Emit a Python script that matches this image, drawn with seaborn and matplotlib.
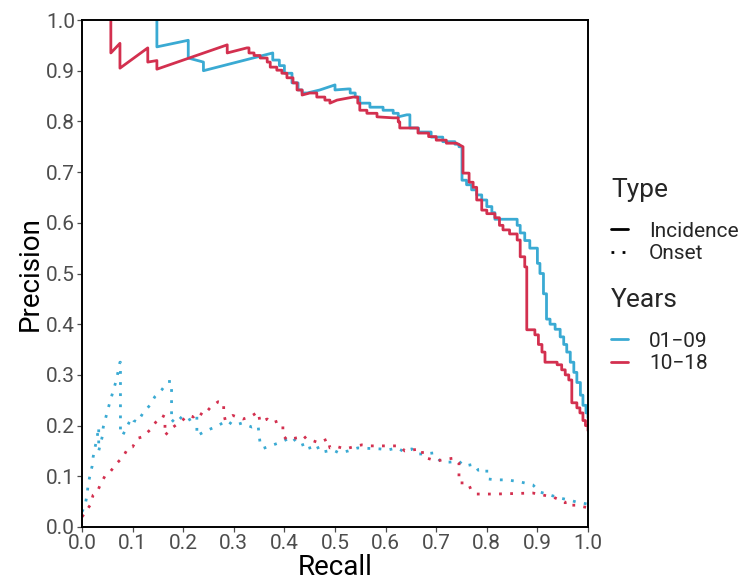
import numpy as np
import pandas as pd
import matplotlib
matplotlib.use("Agg")
import matplotlib.pyplot as plt
from matplotlib.lines import Line2D
import seaborn as sns

# ---------------- data ----------------
inc_0109_recall = [0.148, 0.148, 0.21, 0.21, 0.24, 0.24, 0.377, 0.377, 0.39, 0.39, 0.40, 0.40, 0.415, 0.415,
                   0.427, 0.427, 0.435, 0.435, 0.445, 0.47, 0.50, 0.50, 0.526, 0.53, 0.53, 0.54, 0.54, 0.549,
                   0.549, 0.569, 0.569, 0.595, 0.595, 0.615, 0.615, 0.625, 0.625, 0.642, 0.648, 0.648, 0.665,
                   0.665, 0.69, 0.69, 0.713, 0.713, 0.737, 0.737, 0.745, 0.745, 0.751, 0.751, 0.76, 0.76,
                   0.77, 0.77, 0.78, 0.78, 0.79, 0.79, 0.80, 0.80, 0.81, 0.81, 0.816, 0.816, 0.86, 0.86,
                   0.866, 0.866, 0.875, 0.875, 0.885, 0.885, 0.90, 0.90, 0.905, 0.905, 0.912, 0.912, 0.918,
                   0.918, 0.925, 0.925, 0.935, 0.935, 0.945, 0.945, 0.952, 0.952, 0.958, 0.958, 0.965, 0.965,
                   0.972, 0.972, 0.978, 0.978, 0.985, 0.985, 0.99, 0.99, 0.996, 0.996, 1.0, 1.0]
inc_0109_prec = [1.0, 0.947, 0.96, 0.925, 0.917, 0.90, 0.935, 0.921, 0.921, 0.91, 0.91, 0.895, 0.895, 0.876,
                 0.876, 0.862, 0.862, 0.856, 0.856, 0.862, 0.872, 0.862, 0.864, 0.864, 0.856, 0.856, 0.848,
                 0.848, 0.836, 0.836, 0.828, 0.828, 0.822, 0.822, 0.816, 0.816, 0.809, 0.813, 0.813, 0.787,
                 0.787, 0.779, 0.779, 0.769, 0.769, 0.76, 0.76, 0.755, 0.755, 0.75, 0.75, 0.684, 0.684, 0.675,
                 0.675, 0.665, 0.665, 0.655, 0.655, 0.645, 0.645, 0.632, 0.632, 0.62, 0.62, 0.607, 0.607,
                 0.595, 0.595, 0.58, 0.58, 0.565, 0.565, 0.55, 0.55, 0.52, 0.52, 0.50, 0.50, 0.46, 0.46,
                 0.41, 0.41, 0.40, 0.40, 0.39, 0.39, 0.375, 0.375, 0.36, 0.36, 0.345, 0.345, 0.325, 0.325,
                 0.305, 0.305, 0.285, 0.285, 0.26, 0.26, 0.24, 0.24, 0.225, 0.225, 0.215]

inc_1018_recall = [0.057, 0.057, 0.075, 0.075, 0.13, 0.13, 0.148, 0.148, 0.287, 0.287, 0.326, 0.33, 0.33,
                   0.34, 0.34, 0.352, 0.352, 0.366, 0.366, 0.372, 0.372, 0.385, 0.385, 0.395, 0.395, 0.405,
                   0.405, 0.417, 0.417, 0.425, 0.425, 0.435, 0.435, 0.45, 0.464, 0.464, 0.48, 0.48, 0.49,
                   0.49, 0.504, 0.536, 0.545, 0.545, 0.549, 0.549, 0.563, 0.563, 0.583, 0.583, 0.615, 0.625,
                   0.625, 0.628, 0.628, 0.664, 0.664, 0.685, 0.685, 0.70, 0.70, 0.72, 0.72, 0.74, 0.753,
                   0.753, 0.765, 0.765, 0.773, 0.773, 0.78, 0.78, 0.79, 0.79, 0.80, 0.80, 0.816, 0.816, 0.825,
                   0.825, 0.832, 0.832, 0.845, 0.845, 0.86, 0.86, 0.866, 0.866, 0.875, 0.875, 0.879, 0.879,
                   0.895, 0.895, 0.902, 0.902, 0.909, 0.909, 0.915, 0.915, 0.939, 0.939, 0.948, 0.948, 0.955,
                   0.955, 0.962, 0.962, 0.968, 0.968, 0.978, 0.978, 0.984, 0.984, 0.99, 0.99, 0.995, 0.995,
                   1.0, 1.0]
inc_1018_prec = [1.0, 0.935, 0.954, 0.905, 0.945, 0.917, 0.92, 0.903, 0.951, 0.935, 0.945, 0.945, 0.935,
                 0.935, 0.93, 0.93, 0.925, 0.925, 0.917, 0.917, 0.907, 0.907, 0.901, 0.901, 0.895, 0.895,
                 0.886, 0.886, 0.876, 0.876, 0.862, 0.862, 0.852, 0.856, 0.856, 0.848, 0.848, 0.842, 0.842,
                 0.836, 0.842, 0.848, 0.848, 0.836, 0.836, 0.822, 0.822, 0.816, 0.816, 0.809, 0.807, 0.807,
                 0.799, 0.799, 0.787, 0.787, 0.777, 0.777, 0.77, 0.77, 0.763, 0.763, 0.757, 0.757, 0.75,
                 0.698, 0.698, 0.68, 0.68, 0.67, 0.67, 0.645, 0.645, 0.625, 0.625, 0.618, 0.618, 0.61, 0.61,
                 0.595, 0.595, 0.586, 0.586, 0.578, 0.578, 0.566, 0.566, 0.533, 0.533, 0.513, 0.513, 0.389,
                 0.389, 0.379, 0.379, 0.36, 0.36, 0.345, 0.345, 0.325, 0.325, 0.32, 0.32, 0.31, 0.31, 0.30,
                 0.30, 0.29, 0.29, 0.245, 0.245, 0.235, 0.235, 0.225, 0.225, 0.21, 0.21, 0.20, 0.20, 0.19]

ons_0109_recall = [0.0, 0.006, 0.01, 0.012, 0.016, 0.02, 0.022, 0.026, 0.03, 0.033, 0.033, 0.04, 0.042,
                   0.052, 0.062, 0.068, 0.075, 0.076, 0.076, 0.08, 0.09, 0.098, 0.102, 0.11, 0.12, 0.134,
                   0.144, 0.158, 0.17, 0.177, 0.177, 0.19, 0.204, 0.227, 0.227, 0.24, 0.253, 0.269, 0.286,
                   0.30, 0.316, 0.336, 0.348, 0.352, 0.358, 0.375, 0.395, 0.415, 0.43, 0.447, 0.452, 0.47,
                   0.476, 0.496, 0.508, 0.526, 0.545, 0.589, 0.605, 0.622, 0.634, 0.652, 0.66, 0.676, 0.694,
                   0.702, 0.711, 0.727, 0.745, 0.755, 0.775, 0.783, 0.80, 0.80, 0.818, 0.84, 0.866, 0.891,
                   0.905, 0.925, 0.945, 0.964, 0.978, 0.99, 1.0]
ons_0109_prec = [0.03, 0.043, 0.063, 0.083, 0.103, 0.12, 0.138, 0.158, 0.178, 0.197, 0.15, 0.178, 0.197,
                 0.235, 0.27, 0.29, 0.325, 0.325, 0.19, 0.18, 0.20, 0.216, 0.21, 0.207, 0.224, 0.24,
                 0.257, 0.271, 0.287, 0.287, 0.207, 0.22, 0.207, 0.22, 0.18, 0.187, 0.193, 0.20, 0.21,
                 0.20, 0.205, 0.197, 0.20, 0.165, 0.155, 0.161, 0.168, 0.178, 0.16, 0.166, 0.15, 0.158,
                 0.148, 0.152, 0.146, 0.15, 0.156, 0.154, 0.152, 0.156, 0.15, 0.154, 0.144, 0.144, 0.146,
                 0.136, 0.128, 0.128, 0.13, 0.12, 0.124, 0.112, 0.114, 0.095, 0.093, 0.093, 0.089, 0.083,
                 0.069, 0.063, 0.057, 0.053, 0.049, 0.047, 0.045]

ons_1018_recall = [0.0, 0.006, 0.016, 0.022, 0.03, 0.036, 0.045, 0.055, 0.069, 0.081, 0.091, 0.10, 0.11,
                   0.12, 0.134, 0.146, 0.158, 0.164, 0.164, 0.18, 0.194, 0.21, 0.22, 0.229, 0.24, 0.253,
                   0.269, 0.28, 0.28, 0.283, 0.298, 0.318, 0.332, 0.348, 0.352, 0.366, 0.375, 0.387, 0.397,
                   0.397, 0.405, 0.425, 0.437, 0.445, 0.457, 0.468, 0.486, 0.49, 0.506, 0.52, 0.536, 0.553,
                   0.569, 0.599, 0.628, 0.638, 0.652, 0.672, 0.674, 0.688, 0.70, 0.72, 0.737, 0.745, 0.745,
                   0.763, 0.769, 0.78, 0.816, 0.891, 0.911, 0.931, 0.955, 0.955, 0.978, 0.99, 1.0]
ons_1018_prec = [0.02, 0.028, 0.043, 0.063, 0.069, 0.083, 0.10, 0.108, 0.126, 0.138, 0.156, 0.158, 0.175,
                 0.178, 0.191, 0.207, 0.22, 0.217, 0.181, 0.197, 0.207, 0.22, 0.217, 0.227, 0.22, 0.235,
                 0.247, 0.245, 0.225, 0.211, 0.22, 0.213, 0.217, 0.227, 0.207, 0.213, 0.205, 0.209, 0.201,
                 0.181, 0.172, 0.176, 0.181, 0.172, 0.17, 0.166, 0.174, 0.156, 0.158, 0.154, 0.158, 0.162,
                 0.16, 0.16, 0.16, 0.15, 0.152, 0.154, 0.138, 0.134, 0.13, 0.134, 0.136, 0.126, 0.087,
                 0.087, 0.073, 0.065, 0.065, 0.067, 0.063, 0.059, 0.049, 0.043, 0.043, 0.04, 0.038]

types = ["Incidence", "Onset"]
years = ["01\u221209", "10\u221218"]
x_ticks = [0.0, 0.1, 0.2, 0.3, 0.4, 0.5, 0.6, 0.7, 0.8, 0.9, 1.0]
y_ticks = [0.0, 0.1, 0.2, 0.3, 0.4, 0.5, 0.6, 0.7, 0.8, 0.9, 1.0]

colors = {years[0]: "#3AAAD3", years[1]: "#D3304F"}

curves = [
    (types[0], years[0], inc_0109_recall, inc_0109_prec),
    (types[0], years[1], inc_1018_recall, inc_1018_prec),
    (types[1], years[0], ons_0109_recall, ons_0109_prec),
    (types[1], years[1], ons_1018_recall, ons_1018_prec),
]
frames = []
for i, (t, yr, rx, py) in enumerate(curves):
    frames.append(pd.DataFrame({"Recall": rx, "Precision": py, "Type": t, "Years": yr,
                                "curve": i}))
df = pd.concat(frames, ignore_index=True)

# ---------------- plot ----------------
sns.set_theme(style="white")
plt.rcParams["font.family"] = ["Roboto", "DejaVu Sans"]

fig = plt.figure(figsize=(7.41, 5.81), dpi=100)
ax = fig.add_axes([82 / 741, 1 - 527 / 581, (588 - 82) / 741, (527 - 20) / 581])

sns.lineplot(data=df, x="Recall", y="Precision", hue="Years", style="Type",
             units="curve", estimator=None, sort=False,
             palette=colors, hue_order=years, style_order=types,
             dashes={types[0]: "", types[1]: (1, 3)},
             linewidth=2.0, legend=False, ax=ax)

ax.set_xlim(0, 1)
ax.set_ylim(0, 1)
ax.set_xticks(x_ticks)
ax.set_yticks(y_ticks)
ax.set_xticklabels([f"{v:.1f}" for v in x_ticks])
ax.set_yticklabels([f"{v:.1f}" for v in y_ticks])
ax.tick_params(axis="both", which="major", labelsize=15, colors="#4D4D4D",
               length=3.5, width=0.9, direction="out", pad=1.5, bottom=True, left=True)
for lab in ax.get_xticklabels() + ax.get_yticklabels():
    lab.set_color("#4D4D4D")
ax.set_xlabel("Recall", fontsize=20, color="black", labelpad=0.5)
ax.set_ylabel("Precision", fontsize=20, color="black", labelpad=2)
for s in ax.spines.values():
    s.set_visible(True)
    s.set_color("black")
    s.set_linewidth(1.4)

# legends
type_handles = [Line2D([0], [0], color="black", lw=2.0, linestyle="-"),
                Line2D([0], [0], color="black", lw=2.0, linestyle=(0, (1, 3)))]
year_handles = [Line2D([0], [0], color=colors[years[0]], lw=2.0),
                Line2D([0], [0], color=colors[years[1]], lw=2.0)]

leg_kw = dict(loc="upper left", frameon=False, fontsize=15, title_fontsize=19,
              handlelength=0.8, handletextpad=1.0, labelspacing=0.15, borderaxespad=0)
leg1 = fig.legend(type_handles, types, title="Type",
                  bbox_to_anchor=(603 / 741, 1 - 170 / 581), **leg_kw)
leg1._legend_box.align = "left"
leg1._legend_box.sep = 14
leg2 = fig.legend(year_handles, years, title="Years",
                  bbox_to_anchor=(603 / 741, 1 - 280 / 581), **leg_kw)
leg2._legend_box.align = "left"
leg2._legend_box.sep = 14

fig.savefig("out.png", dpi=100)
